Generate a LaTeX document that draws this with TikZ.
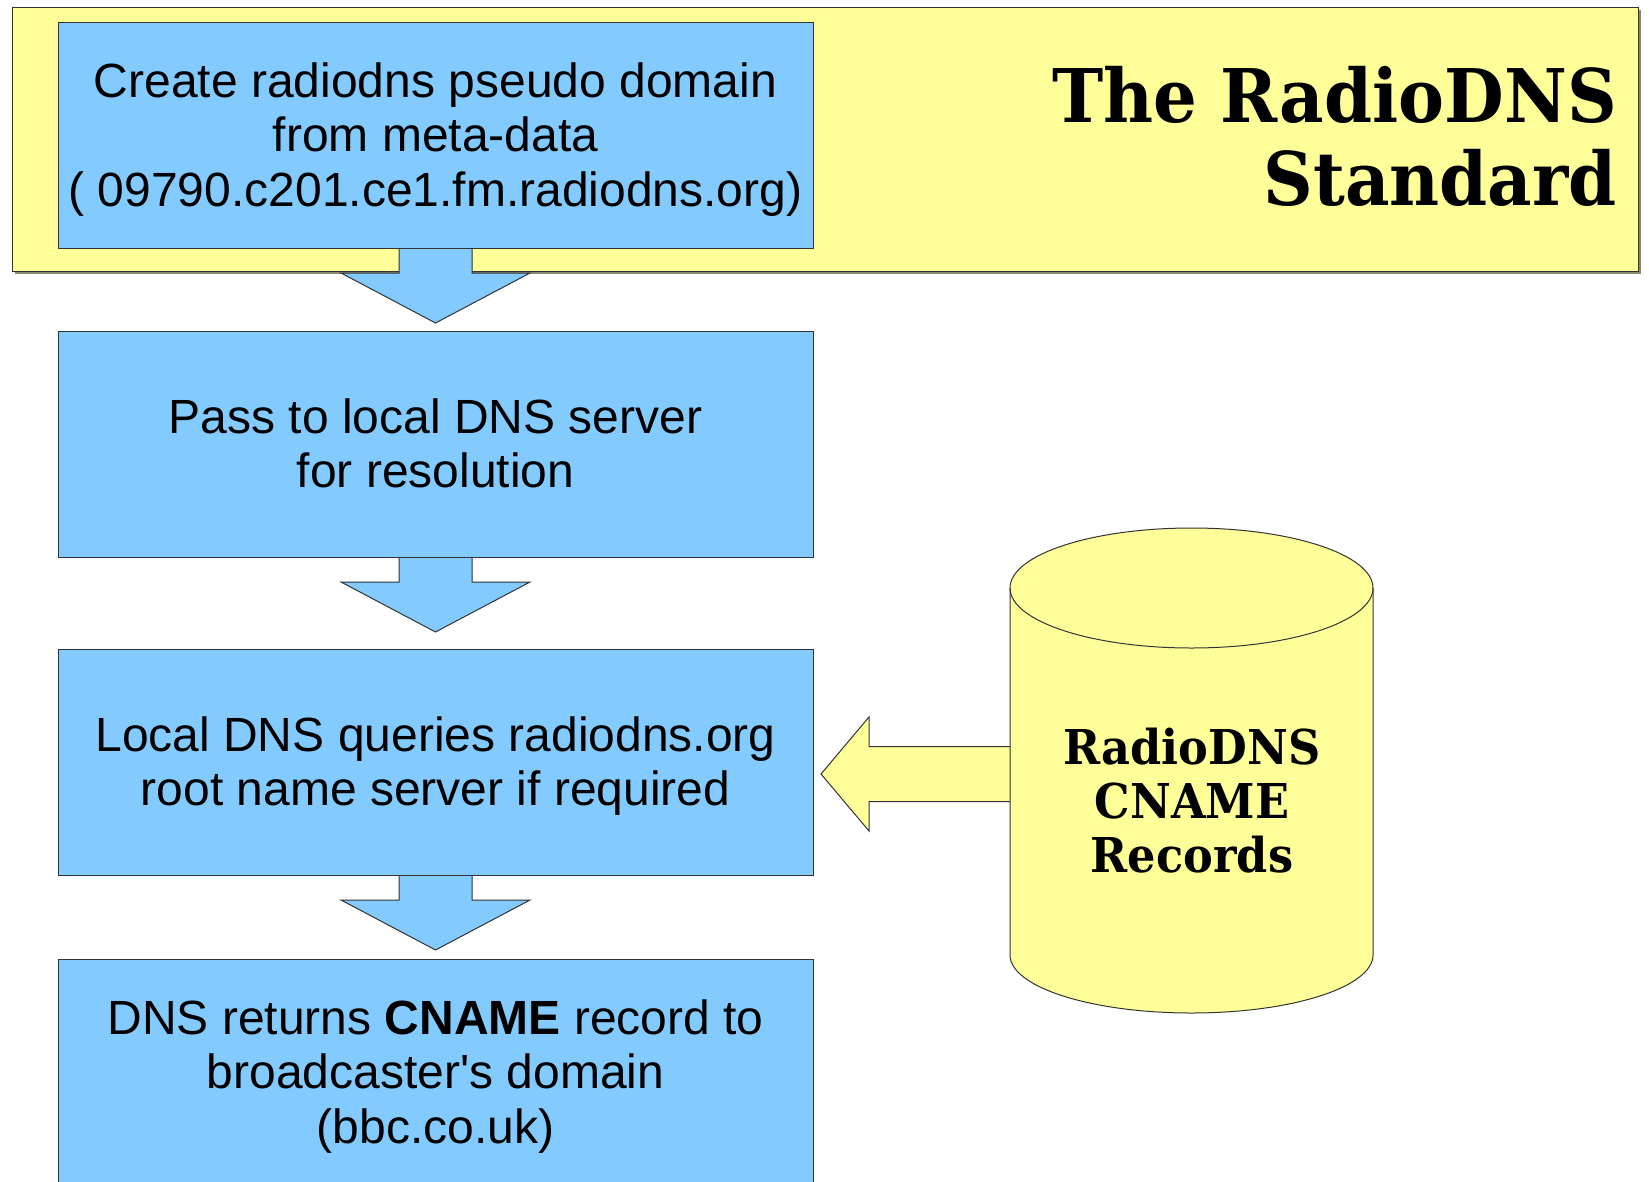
\documentclass[tikz,border=0pt]{standalone}
\usepackage{fontspec}
\setmainfont{Liberation Sans}[Ligatures=TeXOff]
\newfontfamily\titlefont{DejaVu Serif}
\usetikzlibrary{calc}
\definecolor{boxblue}{HTML}{83CAFF}
\definecolor{paleyellow}{HTML}{FFFF99}
\definecolor{edgegray}{HTML}{333333}
\definecolor{shadowgray}{HTML}{8A8A70}
\newcommand\linestrut{\rule[-10.65pt]{0pt}{54.5pt}}
\newcommand\narrowtext[1]{\scalebox{0.93}[1]{#1}}
\begin{document}
\begin{tikzpicture}[x=1pt,y=-1pt,
  stepbox/.style={draw=edgegray, line width=1pt, fill=boxblue, minimum width=755pt,
    minimum height=226pt, inner sep=0pt, align=center, font=\fontsize{48}{54.5}\selectfont},
  blockdown/.style={draw=edgegray, line width=1pt, fill=boxblue, line join=miter},
  blockleft/.style={draw=edgegray, line width=1pt, fill=paleyellow, line join=miter},
  banner/.style={draw=edgegray, line width=1pt, fill=paleyellow, minimum width=1626pt,
    minimum height=264pt, inner sep=0pt},
  titletext/.style={font=\titlefont\bfseries\fontsize{74}{83}\selectfont, inner sep=0pt},
  cyltext/.style={font=\titlefont\bfseries\fontsize{48}{54}\selectfont, align=center, inner sep=0pt},
  cylbody/.style={draw=edgegray, line width=1pt, fill=paleyellow}]
\clip (0,0) rectangle (1649,1181);
\fill[white] (0,0) rectangle (1649,1181);
% banner with shadow
\fill[shadowgray] (15,10) rectangle (1641,274);
\node[banner] (ban) at (825,139) {};
\node[titletext, anchor=base east] (t1) at (1617,122) {\narrowtext{The RadioDNS}};
\node[titletext, anchor=base east] (t2) at (1617,205) {\narrowtext{Standard}};
% step boxes positions (centres)
\coordinate (c1) at (435.5,135);
\coordinate (c2) at (435.5,444);
\coordinate (c3) at (435.5,762);
\coordinate (c4) at (435.5,1072);
% block arrows between boxes
\foreach \i in {1,2,3}{
  \path (c\i) ++(0,113) coordinate (bb\i);
  \draw[blockdown] ($(bb\i)+(-36.5,-3)$) -- ($(bb\i)+(-36.5,25)$) -- ($(bb\i)+(-94.5,25)$)
    -- ($(bb\i)+(0,75)$) -- ($(bb\i)+(94.5,25)$) -- ($(bb\i)+(36.5,25)$)
    -- ($(bb\i)+(36.5,-3)$) -- cycle;
}
\node[stepbox] (b1) at (c1) {\linestrut Create radiodns pseudo domain\\\linestrut from meta-data\\\linestrut ( 09790.c201.ce1.fm.radiodns.org)};
\node[stepbox] (b2) at (c2) {\linestrut Pass to local DNS server\\\linestrut for resolution};
\node[stepbox] (b3) at (c3) {\linestrut Local DNS queries radiodns.org\\\linestrut root name server if required};
\node[stepbox] (b4) at (c4) {\linestrut DNS returns \textbf{CNAME} record to\\\linestrut broadcaster's domain\\\linestrut (bbc.co.uk)};
% cylinder
\coordinate (dbwest) at (1010,774);
\draw[blockleft] ($(dbwest)+(3,-27.5)$) -- ($(dbwest)+(-141,-27.5)$) -- ($(dbwest)+(-141,-57)$)
  -- ($(dbwest)+(-189,0)$) -- ($(dbwest)+(-141,57)$) -- ($(dbwest)+(-141,27.5)$)
  -- ($(dbwest)+(3,27.5)$) -- cycle;
\draw[cylbody] (1010,588) -- (1010,955)
  arc[start angle=180, end angle=0, x radius=181.5, y radius=58] -- (1373,588)
  arc[start angle=0, end angle=-180, x radius=181.5, y radius=60] -- cycle;
\draw[edgegray, line width=1pt] (1010,588) arc[start angle=180, end angle=0, x radius=181.5, y radius=60];
\node[cyltext] (db) at (1192,801) {\narrowtext{RadioDNS}\\\narrowtext{CNAME}\\\narrowtext{Records}};
\end{tikzpicture}
\end{document}
